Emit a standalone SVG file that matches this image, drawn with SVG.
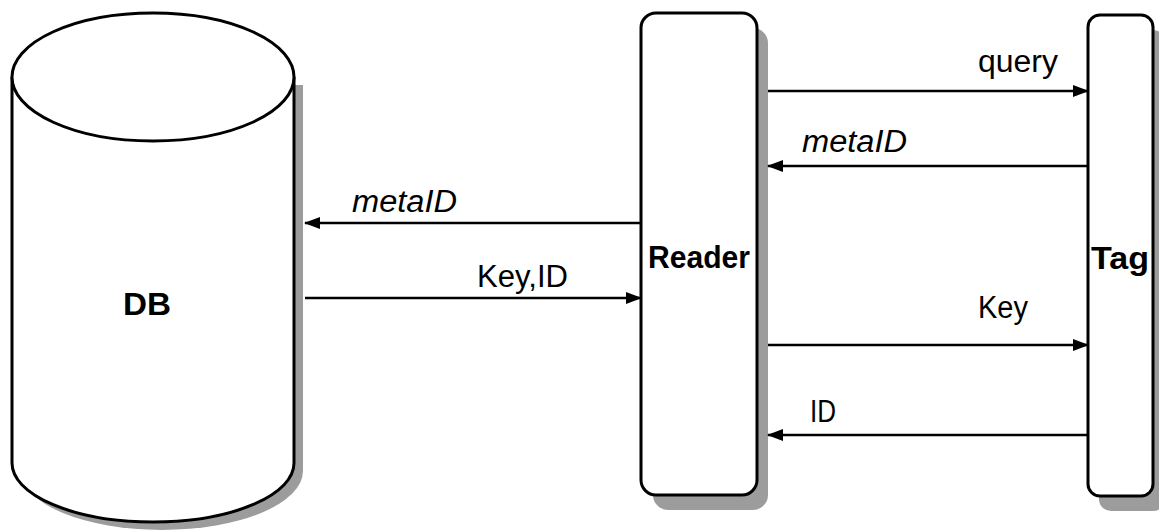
<svg xmlns="http://www.w3.org/2000/svg" width="1159" height="532" viewBox="0 0 1159 532">
<style>
.outline{fill:#fff;stroke:#000;stroke-width:3}
.shadow{fill:#9c9c9c;stroke:none}
.lbl{font-family:"Liberation Sans",Arial,sans-serif;font-size:31px;fill:#000}
.it{font-style:italic}
.bold{font-weight:bold}
.conn{stroke:#000;stroke-width:2.5;fill:none}
</style>
<defs>
<marker id="ah" markerWidth="16" markerHeight="12" refX="15" refY="6" orient="auto" markerUnits="userSpaceOnUse">
<path d="M0,0 L16,6 L0,12 Z" fill="#000"/>
</marker>
</defs>
<rect width="1159" height="532" fill="#fff"/>
<g id="db">
<path class="shadow" d="M21,85 V471 A141 59 0 0 0 303 471 V85 Z"/>
<path class="outline" d="M12,77 V463 A141 59 0 0 0 294 463 V77"/>
<ellipse class="outline" cx="153" cy="77" rx="141" ry="64"/>
<text class="lbl bold" x="147" y="315" font-size="42" text-anchor="middle" textLength="48" lengthAdjust="spacingAndGlyphs">DB</text>
</g>
<g id="reader">
<rect class="shadow" x="653" y="28" width="115" height="482" rx="15"/>
<rect class="outline" x="641" y="13" width="116" height="482" rx="15"/>
<text class="lbl bold" x="648" y="268" textLength="102" lengthAdjust="spacingAndGlyphs">Reader</text>
</g>
<g id="tag">
<rect class="shadow" x="1099" y="30" width="66" height="481" rx="12"/>
<rect class="outline" x="1088" y="15" width="65" height="481" rx="12"/>
<text class="lbl bold" x="1091" y="269" textLength="58" lengthAdjust="spacingAndGlyphs">Tag</text>
</g>
<g id="connectors">
<line class="conn" x1="768" y1="91" x2="1088" y2="91" marker-end="url(#ah)"/>
<line class="conn" x1="1088" y1="166" x2="768" y2="166" marker-end="url(#ah)"/>
<line class="conn" x1="641" y1="223" x2="305" y2="223" marker-end="url(#ah)"/>
<line class="conn" x1="305" y1="298" x2="641" y2="298" marker-end="url(#ah)"/>
<line class="conn" x1="768" y1="345" x2="1088" y2="345" marker-end="url(#ah)"/>
<line class="conn" x1="1088" y1="435" x2="768" y2="435" marker-end="url(#ah)"/>
<text class="lbl" x="978" y="72" textLength="80" lengthAdjust="spacingAndGlyphs">query</text>
<text class="lbl it" x="802" y="152" textLength="105" lengthAdjust="spacingAndGlyphs">metaID</text>
<text class="lbl it" x="352" y="212" textLength="105" lengthAdjust="spacingAndGlyphs">metaID</text>
<text class="lbl" x="477" y="287" textLength="91" lengthAdjust="spacingAndGlyphs">Key,ID</text>
<text class="lbl" x="978" y="318" textLength="50" lengthAdjust="spacingAndGlyphs">Key</text>
<text class="lbl" x="810" y="422" textLength="26" lengthAdjust="spacingAndGlyphs">ID</text>
</g>
</svg>
